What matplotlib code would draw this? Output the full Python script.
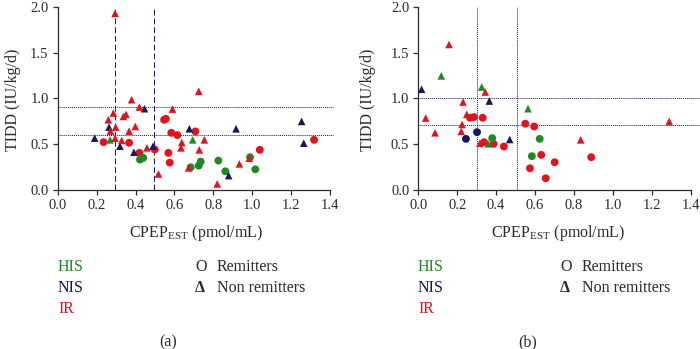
import matplotlib
matplotlib.use("Agg")
import matplotlib.pyplot as plt

plt.rcParams['font.family'] = ['Liberation Serif', 'DejaVu Serif']
plt.rcParams['mathtext.fontset'] = 'custom'
plt.rcParams['mathtext.rm'] = 'Liberation Serif'

GREEN = '#1f8a24'
NAVY = '#16185e'
RED = '#e0141e'

# panel (a) data
a_ir_non_x = [0.295, 0.286, 0.26, 0.271, 0.298, 0.295, 0.329, 0.338, 0.351, 0.38, 0.367, 0.399, 0.42,
              0.459, 0.518, 0.59, 0.638, 0.634, 0.673, 0.725, 0.728, 0.754, 0.82, 0.934, 0.985]
a_ir_non_y = [1.927, 0.839, 0.766, 0.642, 0.686, 0.566, 0.54, 0.803, 0.825, 0.985, 0.642, 0.693, 0.905,
              0.46, 0.175, 0.883, 0.518, 0.46, 0.241, 1.077, 0.438, 0.547, 0.066, 0.285, 0.347]
a_nis_non_x = [0.19, 0.264, 0.32, 0.392, 0.446, 0.49, 0.677, 0.917, 0.879, 1.254, 1.265]
a_nis_non_y = [0.566, 0.686, 0.478, 0.412, 0.887, 0.478, 0.668, 0.668, 0.157, 0.748, 0.511]
a_his_non_x = [0.269, 0.694]
a_his_non_y = [0.547, 0.547]
a_ir_rem_x = [0.236, 0.367, 0.42, 0.499, 0.547, 0.556, 0.569, 0.576, 0.584, 0.615, 0.708, 1.039, 1.318]
a_ir_rem_y = [0.522, 0.515, 0.405, 0.442, 0.766, 0.777, 0.405, 0.299, 0.624, 0.599, 0.639, 0.438, 0.547]
a_his_rem_x = [0.423, 0.44, 0.684, 0.725, 0.735, 0.826, 0.862, 0.989, 1.016]
a_his_rem_y = [0.332, 0.35, 0.248, 0.266, 0.31, 0.321, 0.204, 0.358, 0.226]
a_vlines = [0.295, 0.497]
a_hlines = [0.905, 0.6]

# panel (b) data
b_ir_non_x = [0.038, 0.086, 0.158, 0.23, 0.249, 0.225, 0.221, 0.317, 0.344, 0.835, 1.29]
b_ir_non_y = [0.785, 0.624, 1.588, 0.96, 0.825, 0.715, 0.639, 0.511, 1.069, 0.547, 0.748]
b_nis_non_x = [0.017, 0.365, 0.47]
b_nis_non_y = [1.099, 0.971, 0.551]
b_his_non_x = [0.118, 0.326, 0.36, 0.564]
b_his_non_y = [1.245, 1.124, 0.504, 0.887]
b_ir_rem_x = [0.266, 0.286, 0.331, 0.338, 0.387, 0.44, 0.55, 0.596, 0.632, 0.574, 0.655, 0.701, 0.889]
b_ir_rem_y = [0.788, 0.796, 0.788, 0.522, 0.504, 0.474, 0.723, 0.693, 0.383, 0.237, 0.128, 0.303, 0.358]
b_nis_rem_x = [0.245, 0.302]
b_nis_rem_y = [0.558, 0.631]
b_his_rem_x = [0.38, 0.624, 0.584]
b_his_rem_y = [0.566, 0.558, 0.369]
b_vlines = [0.3, 0.508]
b_hlines = [1.005, 0.71]

xticks = [0.0, 0.2, 0.4, 0.6, 0.8, 1.0, 1.2, 1.4]
yticks = [0.0, 0.5, 1.0, 1.5, 2.0]

fig = plt.figure(figsize=(7, 3.49), dpi=100)
W, H = 700, 349
txt = '#2a2a2a'


def setup(ax):
    ax.set_xlim(0, 1.4)
    ax.set_ylim(0, 2.0)
    ax.set_xticks(xticks)
    ax.set_yticks(yticks)
    ax.set_xticklabels(['%.1f' % t for t in xticks])
    ax.set_yticklabels(['%.1f' % t for t in yticks])
    for s in ['top', 'right']:
        ax.spines[s].set_visible(False)
    for s in ['left', 'bottom']:
        ax.spines[s].set_color(txt)
        ax.spines[s].set_linewidth(0.9)
    ax.tick_params(direction='out', length=3.5, width=0.9, color=txt,
                   labelsize=10.5, pad=3, labelcolor=txt)
    ax.patch.set_alpha(0)


def draw(ax, circles, triangles):
    for x, y, c in circles:
        ax.scatter(x, y, s=32, marker='o', color=c, edgecolors='none', clip_on=False, zorder=3)
    for x, y, c in triangles:
        ax.scatter(x, y, s=30, marker='^', color=c, edgecolors='none', clip_on=False, zorder=4)


# panel (a)
ax1 = fig.add_axes([57.7 / W, 1 - 190 / H, 272.3 / W, 183.3 / H])
setup(ax1)
for v in a_vlines:
    ax1.axvline(v, color=NAVY, lw=0.7, ls=(0, (6, 3)), zorder=1)
for h in a_hlines:
    ax1.axhline(h, xmin=0, xmax=1.012, color=NAVY, lw=0.7, ls=(0, (1, 1)), clip_on=False, zorder=1)
draw(ax1,
     [(a_ir_rem_x, a_ir_rem_y, RED), (a_his_rem_x, a_his_rem_y, GREEN)],
     [(a_his_non_x, a_his_non_y, GREEN), (a_nis_non_x, a_nis_non_y, NAVY), (a_ir_non_x, a_ir_non_y, RED)])

# panel (b)
ax2 = fig.add_axes([418.3 / W, 1 - 190 / H, 272.3 / W, 183.3 / H])
setup(ax2)
for v in b_vlines:
    ax2.axvline(v, color=NAVY, lw=0.7, ls=(0, (1, 1)), zorder=1)
for h in b_hlines:
    ax2.axhline(h, xmin=0, xmax=1.04, color=NAVY, lw=0.7, ls=(0, (1, 1)), clip_on=False, zorder=1)
draw(ax2,
     [(b_ir_rem_x, b_ir_rem_y, RED), (b_nis_rem_x, b_nis_rem_y, NAVY), (b_his_rem_x, b_his_rem_y, GREEN)],
     [(b_his_non_x, b_his_non_y, GREEN), (b_nis_non_x, b_nis_non_y, NAVY), (b_ir_non_x, b_ir_non_y, RED)])

# labels and legend text
for ylab_x in [13, 368]:
    fig.text(ylab_x / W, 1 - 100 / H, 'TIDD (IU/kg/d)', rotation=90, ha='center', va='center',
             fontsize=11.5, color=txt)
for cx, leg_x, o_x, lab, lab_x in [(196, 58, 195, '(a)', 168), (558, 418, 560, '(b)', 528)]:
    fig.text(cx / W, 1 - 233 / H, r'CPEP$_{\mathrm{EST}}$ (pmol/mL)', ha='center', va='center',
             fontsize=11.5, color=txt)
    fig.text(leg_x / W, 1 - 267 / H, 'HIS', color=GREEN, fontsize=11.5, va='center')
    fig.text(leg_x / W, 1 - 288 / H, 'NIS', color=NAVY, fontsize=11.5, va='center')
    fig.text(leg_x / W, 1 - 309 / H, 'IR', color=RED, fontsize=11.5, va='center')
    fig.text(o_x / W, 1 - 267 / H, 'O', color=txt, fontsize=11.5, va='center')
    fig.text((o_x + 22) / W, 1 - 267 / H, 'Remitters', color=txt, fontsize=11.5, va='center')
    fig.text(o_x / W, 1 - 288 / H, '\u0394', color=txt, fontsize=11.5, va='center', fontweight='bold')
    fig.text((o_x + 22) / W, 1 - 288 / H, 'Non remitters', color=txt, fontsize=11.5, va='center')
    fig.text(lab_x / W, 1 - 342 / H, lab, color=txt, fontsize=11.5, ha='center', va='center')

fig.savefig('out.png', dpi=100)
